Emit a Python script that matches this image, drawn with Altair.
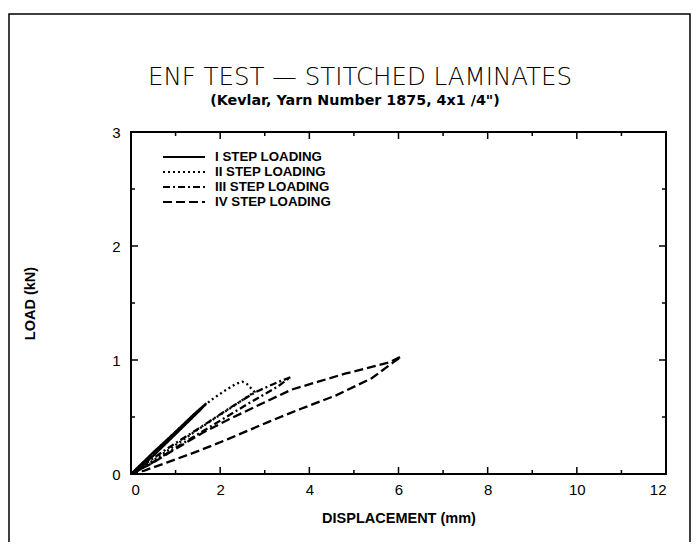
import altair as alt
import pandas as pd

# ---- data ----
series_names = ["I STEP LOADING", "II STEP LOADING", "III STEP LOADING", "IV STEP LOADING"]

I_x = [0, 0.5, 1.0, 1.4, 1.69, 1.55, 1.0, 0.5, 0.1, 0]
I_y = [0, 0.19, 0.37, 0.52, 0.62, 0.56, 0.35, 0.16, 0.02, 0]

II_x = [0, 0.5, 1.0, 1.5, 1.8, 2.1, 2.35, 2.5, 2.6, 2.77, 2.2, 1.5, 0.8, 0.2, 0]
II_y = [0, 0.18, 0.37, 0.55, 0.65, 0.73, 0.79, 0.81, 0.79, 0.72, 0.57, 0.39, 0.2, 0.04, 0]

III_x = [0, 0.8, 1.6, 2.3, 2.8, 3.2, 3.58, 3.3, 2.6, 1.8, 1.0, 0.4, 0]
III_y = [0, 0.22, 0.42, 0.6, 0.72, 0.79, 0.85, 0.77, 0.61, 0.42, 0.23, 0.08, 0]

IV_x = [0, 0.5, 1.0, 1.6, 2.2, 3.0, 3.6, 4.2, 4.8, 5.4, 5.8, 6.06, 5.85, 5.4, 4.6, 3.8, 3.1, 2.2, 1.5, 0.8, 0.3, 0]
IV_y = [0, 0.1, 0.22, 0.36, 0.48, 0.63, 0.74, 0.81, 0.88, 0.94, 0.98, 1.03, 0.97, 0.84, 0.69, 0.57, 0.46, 0.31, 0.2, 0.1, 0.03, 0]

dashes = [[1, 0], [2, 3], [7, 3, 2, 3], [9, 4]]

x_major = [2, 4, 6, 8, 10]
x_minor = [1, 3, 5, 7, 9, 11]
y_major = [1, 2]
y_minor = [0.5, 1.5, 2.5]

title_text = "ENF TEST \u2014 STITCHED LAMINATES"
subtitle_text = '(Kevlar, Yarn Number 1875, 4x1 /4")'

W, H = 535, 342
PAD_L, PAD_T = 123, 124

rows = []
for name, xs_, ys_ in zip(series_names, [I_x, II_x, III_x, IV_x], [I_y, II_y, III_y, IV_y]):
    for i, (a, b) in enumerate(zip(xs_, ys_)):
        rows.append({"series": name, "x": a, "y": b, "i": i})
df = pd.DataFrame(rows)

xs = alt.Scale(domain=[0, 12], nice=False, zero=False)
ys = alt.Scale(domain=[0, 3], nice=False, zero=False)

axis_common = dict(ticks=False, domain=False, grid=False, format="d", labelFont="Liberation Sans",
                   labelFontSize=15, labelColor="black", titleFont="Liberation Sans",
                   titleFontSize=14.5, titleFontWeight="bold", titleColor="black")

lines = alt.Chart(df).mark_line(color="black", strokeWidth=2.3, clip=True).encode(
    x=alt.X("x:Q", scale=xs, title="DISPLACEMENT (mm)",
            axis=alt.Axis(values=[0, 2, 4, 6, 8, 10, 12], labelPadding=8, titlePadding=14, **axis_common)),
    y=alt.Y("y:Q", scale=ys, title="LOAD (kN)",
            axis=alt.Axis(values=[0, 1, 2, 3], labelPadding=11, titlePadding=74, **axis_common)),
    detail="series:N",
    order="i:Q",
    strokeDash=alt.StrokeDash("series:N", scale=alt.Scale(domain=series_names, range=dashes), legend=None),
)

layers = [lines]

def xticks(vals, length):
    d = pd.DataFrame({"x": vals})
    bot = alt.Chart(d).mark_rule(color="black", strokeWidth=1.5).encode(
        x=alt.X("x:Q", scale=xs), y=alt.value(H), y2=alt.value(H - length))
    top = alt.Chart(d).mark_rule(color="black", strokeWidth=1.5).encode(
        x=alt.X("x:Q", scale=xs), y=alt.value(0), y2=alt.value(length))
    return [bot, top]

def yticks(vals, length):
    d = pd.DataFrame({"y": vals})
    left = alt.Chart(d).mark_rule(color="black", strokeWidth=1.5).encode(
        y=alt.Y("y:Q", scale=ys), x=alt.value(0), x2=alt.value(length))
    right = alt.Chart(d).mark_rule(color="black", strokeWidth=1.5).encode(
        y=alt.Y("y:Q", scale=ys), x=alt.value(W), x2=alt.value(W - length))
    return [left, right]

layers += xticks(x_major, 7) + xticks(x_minor, 4) + yticks(y_major, 7) + yticks(y_minor, 4)

# legend (manual, top-left inside the plot)
one = pd.DataFrame({"k": [0]})
for k, (name, dash) in enumerate(zip(series_names, dashes)):
    yy = 25 + k * 15
    layers.append(alt.Chart(one).mark_rule(color="black", strokeWidth=2, strokeDash=dash).encode(
        x=alt.value(32), x2=alt.value(74), y=alt.value(yy)))
    layers.append(alt.Chart(pd.DataFrame({"t": [name]})).mark_text(
        align="left", baseline="middle", font="Liberation Sans", fontWeight="bold",
        fontSize=13.3, color="black").encode(x=alt.value(84), y=alt.value(yy), text="t:N"))

# titles as text marks
layers.append(alt.Chart(pd.DataFrame({"t": [title_text]})).mark_text(
    align="center", baseline="middle", font="DejaVu Sans", fontWeight=200, fontSize=24.5,
    color="black", clip=False).encode(x=alt.value(229), y=alt.value(-54), text="t:N"))
layers.append(alt.Chart(pd.DataFrame({"t": [subtitle_text]})).mark_text(
    align="center", baseline="middle", font="DejaVu Sans", fontWeight="bold", fontSize=14.3,
    color="black", clip=False).encode(x=alt.value(224), y=alt.value(-31), text="t:N"))

# outer frame
layers.append(alt.Chart(one).mark_rect(fill=None, stroke="black", strokeWidth=1.5, clip=False).encode(
    x=alt.value(-122), x2=alt.value(559), y=alt.value(-118), y2=alt.value(H + 200)))

chart = alt.layer(*layers).properties(
    width=W, height=H,
    autosize=alt.AutoSizeParams(type="none"),
    padding={"left": PAD_L, "top": PAD_T, "right": 25, "bottom": 68},
).configure_view(stroke="black", strokeWidth=2)

chart.save("out.html", embed_options={"renderer": "svg", "actions": False})
